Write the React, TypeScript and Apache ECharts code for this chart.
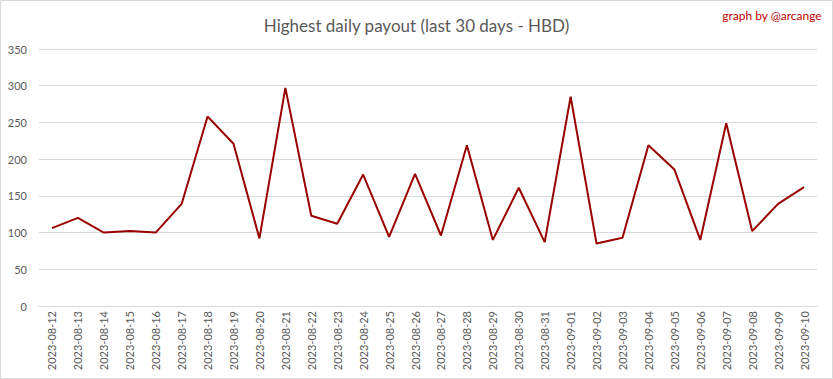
import React, { useEffect, useRef } from "react";
import * as echarts from "echarts";

const categories = [
  "2023-08-12", "2023-08-13", "2023-08-14", "2023-08-15", "2023-08-16", "2023-08-17",
  "2023-08-18", "2023-08-19", "2023-08-20", "2023-08-21", "2023-08-22", "2023-08-23",
  "2023-08-24", "2023-08-25", "2023-08-26", "2023-08-27", "2023-08-28", "2023-08-29",
  "2023-08-30", "2023-08-31", "2023-09-01", "2023-09-02", "2023-09-03", "2023-09-04",
  "2023-09-05", "2023-09-06", "2023-09-07", "2023-09-08", "2023-09-09", "2023-09-10",
];

const payout = [
  106, 120, 100, 102, 100, 139, 258, 221, 92, 297, 123, 112, 179, 94, 180, 96,
  219, 90, 161, 87, 285, 85, 93, 219, 186, 90, 249, 102, 139, 162,
];

const titleText = "Highest daily payout (last 30 days - HBD)";
const creditText = "graph by @arcange";

const FONT = "Lato, 'Noto Sans', sans-serif";

export default function App() {
  const ref = useRef<HTMLDivElement>(null);
  useEffect(() => {
    document.body.style.margin = "0";
    const chart = echarts.init(ref.current!, null, { renderer: "svg" });
    chart.setOption({
      animation: false,
      backgroundColor: "#ffffff",
      textStyle: { fontFamily: FONT },
      title: {
        text: titleText,
        left: "center",
        top: 12,
        textStyle: { color: "#595959", fontSize: 17, fontWeight: "normal", fontFamily: FONT },
      },
      graphic: [
        {
          type: "rect",
          shape: { x: 0.5, y: 0.5, width: 832, height: 378 },
          style: { fill: "none", stroke: "#d9d9d9", lineWidth: 1 },
          silent: true,
        },
        {
          type: "text",
          right: 11,
          top: 9,
          style: { text: creditText, fill: "#c00000", fontSize: 12, fontFamily: FONT },
        },
      ],
      grid: { left: 39, right: 16, top: 49, bottom: 73, containLabel: false },
      xAxis: {
        type: "category",
        data: categories,
        boundaryGap: true,
        axisLine: { lineStyle: { color: "#d9d9d9" } },
        axisTick: { show: false },
        axisLabel: {
          rotate: 90,
          color: "#595959",
          fontSize: 11,
          margin: 5,
          interval: 0,
          fontFamily: FONT,
        },
      },
      yAxis: {
        type: "value",
        min: 0,
        max: 350,
        interval: 50,
        axisLine: { show: false },
        axisTick: { show: false },
        axisLabel: { color: "#595959", fontSize: 11, margin: 12, fontFamily: FONT },
        splitLine: { lineStyle: { color: "#d9d9d9" } },
      },
      series: [
        {
          type: "line",
          data: payout,
          symbol: "none",
          lineStyle: { color: "#990000", width: 2 },
        },
      ],
    });
    return () => chart.dispose();
  }, []);
  return <div ref={ref} style={{ width: 833, height: 379 }} />;
}
